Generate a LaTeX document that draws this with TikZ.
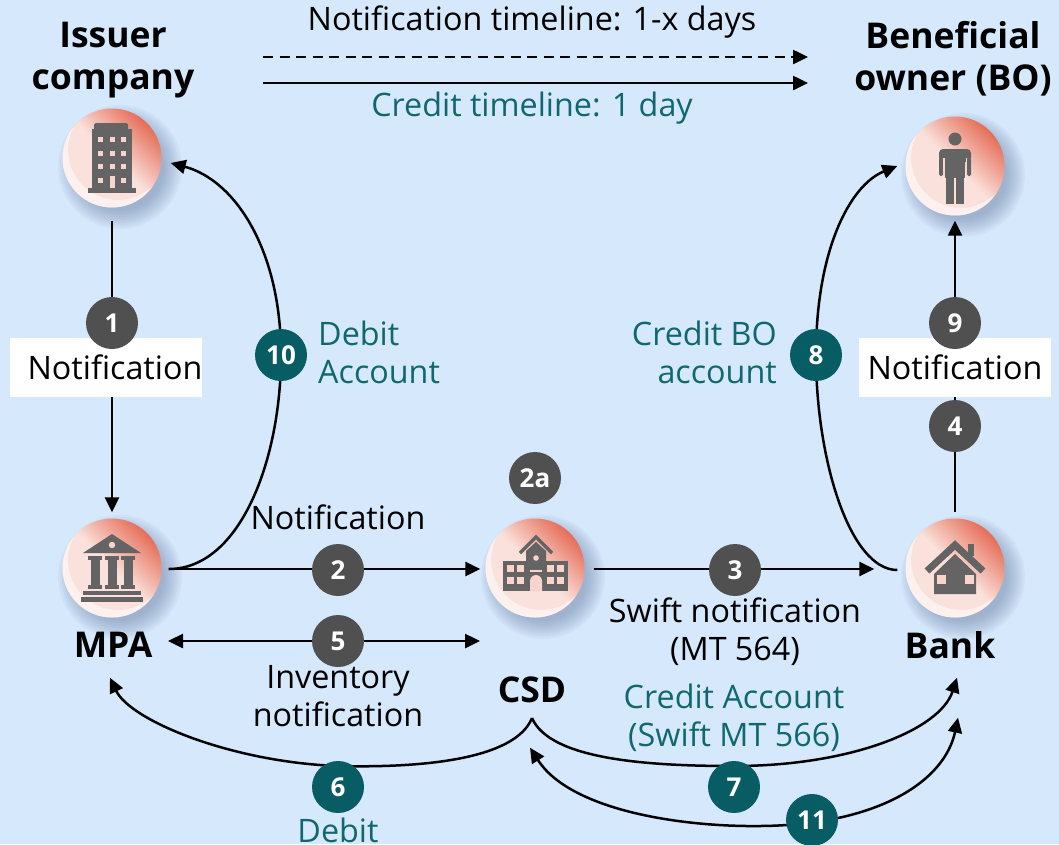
\documentclass[tikz,border=0pt]{standalone}
\usepackage{fontspec}
\setmainfont{Open Sans}
\usetikzlibrary{arrows.meta,calc}
\definecolor{bgc}{RGB}{214,232,252}
\definecolor{tealc}{RGB}{8,92,99}
\definecolor{tealtxt}{RGB}{16,104,110}
\definecolor{darkb}{RGB}{80,80,80}
\definecolor{salmon}{RGB}{229,110,88}
\definecolor{pinkl}{RGB}{250,226,220}
\definecolor{icong}{RGB}{100,100,100}
\definecolor{winp}{RGB}{248,212,204}
\definecolor{shadc}{RGB}{90,110,150}
\tikzset{
  iconc/.style={circle, minimum size=99pt, inner sep=0pt,
    top color=salmon, bottom color=pinkl, middle color=winp!70!white, shading angle=-45},
  badge/.style={circle, fill=darkb, minimum size=52pt, inner sep=0pt, text=white,
    font=\fontsize{26}{30}\selectfont\bfseries},
  tbadge/.style={badge, fill=tealc},
  txt/.style={font=\fontsize{32.3}{38}\selectfont, align=center, inner sep=0pt},
  ttxt/.style={txt, text=tealtxt},
  titletxt/.style={font=\fontsize{35.5}{42}\selectfont\bfseries, align=center, inner sep=0pt},
  wbox/.style={fill=white, minimum width=192pt, minimum height=59pt, inner sep=0pt},
  conn/.style={line width=2.5pt},
  arr/.style={conn, -{Triangle[length=15pt,width=14pt]}},
  darr/.style={conn, {Triangle[length=15pt,width=14pt]}-{Triangle[length=15pt,width=14pt]}},
  dashline/.style={dash pattern=on 10pt off 6.5pt}
}
\newcommand{\softshadow}[1]{%
  \foreach \r in {62,60,...,44} {\fill[shadc, opacity=0.05] ($(#1)+(8,9)$) circle (\r);}}
\newcommand{\swoosh}[1]{%
  \begin{scope}[shift={(#1)}]
    \clip (0,0) circle (49.5);
    \fill[white, opacity=0.55, even odd rule] (-60,-60) rectangle (60,60) (6,-8) circle (50);
  \end{scope}}
\begin{document}
\begin{tikzpicture}[x=1pt,y=-1pt]
\fill[bgc] (0,0) rectangle (1059,844);
\useasboundingbox (0,0) rectangle (1059,844);

% shadow anchors
\coordinate (siss) at (112,158);
\coordinate (sbo) at (955,166);
\coordinate (smpa) at (112,568);
\coordinate (scsd) at (535,568);
\coordinate (sbank) at (955,568);
\softshadow{siss}\softshadow{sbo}\softshadow{smpa}\softshadow{scsd}\softshadow{sbank}

% entity circles
\node[iconc] (iss) at (siss) {};
\node[iconc] (bo) at (sbo) {};
\node[iconc] (mpa) at (smpa) {};
\node[iconc] (csd) at (scsd) {};
\node[iconc] (bank) at (sbank) {};
\swoosh{iss}\swoosh{bo}\swoosh{mpa}\swoosh{csd}\swoosh{bank}

% icons
\begin{scope}[shift={(iss.center)}]
  \fill[icong, rounded corners=1.5pt] (-18,-35) rectangle (16,-26);
  \fill[icong] (-20,-29) rectangle (20,32);
  \fill[icong] (-24,30) rectangle (24,35);
  \foreach \x in {-12,0,11} \foreach \y in {-19,-5,8}
    \fill[winp] (\x-2.5,\y-2.5) rectangle (\x+2.5,\y+2.5);
  \fill[winp] (-14.5,19.5) rectangle (-9.5,24.5);
  \fill[winp] (8.5,19.5) rectangle (13.5,24.5);
  \fill[winp] (-2.5,18) rectangle (2.5,30);
\end{scope}
\begin{scope}[shift={(bo.center)}]
  \fill[icong] (0,-27) circle (6.5);
  \fill[icong, rounded corners=4pt] (-16,-17) rectangle (16,-4);
  \fill[icong, rounded corners=1.5pt] (-16,-8) rectangle (-12,10);
  \fill[icong, rounded corners=1.5pt] (12,-8) rectangle (16,10);
  \fill[icong] (-10,-8) rectangle (10,12);
  \fill[icong] (-9,11) rectangle (-1,38);
  \fill[icong] (1,11) rectangle (9,38);
  \fill[winp] (-12,-8) rectangle (-10.5,10);
  \fill[winp] (10.5,-8) rectangle (12,10);
\end{scope}
\begin{scope}[shift={(mpa.center)}]
  \fill[icong] (-29,-15) -- (0,-34) -- (29,-15) -- cycle;
  \fill[winp] (0,-23) circle (3.2);
  \foreach \x in {-17,0,16} {
    \fill[icong] (\x-7,-12) rectangle (\x+7,-8);
    \fill[icong] (\x-4.5,-8) rectangle (\x+4.5,17);
    \fill[icong] (\x-7,17) rectangle (\x+7,21);
  }
  \fill[icong] (-29,23) rectangle (29,27);
  \fill[icong] (-31,29) rectangle (31,34);
\end{scope}
\begin{scope}[shift={(csd.center)}]
  \draw[icong, line width=3.5pt, line join=miter] (-15,-15) -- (1,-31) -- (17,-15);
  \fill[icong] (-9,-7) -- (-9,-17) -- (1,-26) -- (11,-17) -- (11,-7) -- cycle;
  \fill[icong] (-32,-7) rectangle (33,23);
  \fill[winp] (1,-10) circle (2.8);
  \foreach \x in {-25,-14.5,15.5,25.5} \foreach \y in {0.5,12.5}
    \fill[winp] (\x-3.5,\y-3.5) rectangle (\x+3.5,\y+3.5);
  \fill[winp] (-5,1.5) rectangle (7,3.5);
  \fill[winp] (-5,23) -- (-5,13) arc[start angle=180, end angle=360, radius=6] -- (7,23) -- cycle;
\end{scope}
\begin{scope}[shift={(bank.center)}]
  \fill[icong] (13,-24) rectangle (19,-12);
  \draw[icong, line width=7pt, line join=miter] (-28,3) -- (0,-23) -- (28,3);
  \fill[icong] (-21,6) -- (0,-14) -- (21,6) -- (21,26) -- (-21,26) -- cycle;
  \fill[winp] (-18,7) rectangle (-9,16);
  \fill[winp] (10,7) rectangle (19,16);
\end{scope}

% titles
\node[titletxt] (tiss) at (113,60) {Issuer\\company};
\node[titletxt] (tbo) at (953,59) {Beneficial\\owner (BO)};
\node[titletxt] (tmpa) at (113,645) {MPA};
\node[titletxt] (tcsd) at (532,690) {CSD};
\node[titletxt] (tbank) at (950,645) {Bank};

% timeline legend
\coordinate (ta) at (263,57);
\coordinate (tb) at (808,57);
\coordinate (tc) at (263,83);
\coordinate (td) at (808,83);
\draw[arr, dashline] (ta) -- (tb);
\draw[arr] (tc) -- (td);
\node[txt] (tnl) at (532,22) {Notification timeline: 1-x days};
\node[ttxt] (tcl) at (532,108) {Credit timeline: 1 day};

% badge positions
\coordinate (p10) at (281,355);
\coordinate (p8) at (816,355);
\coordinate (cfork) at (532,718);

% connectors
\draw[arr] ($(iss.south)+(0,13)$) -- ($(mpa.north)+(0,-6)$);
\draw[arr] ($(bank.north)+(0,-6)$) -- ($(bo.south)+(0,5)$);
\draw[arr] ($(mpa.east)+(7,1)$) -- ($(csd.west)+(-5,1)$);
\draw[darr] ($(mpa)+(56,73)$) -- ($(csd)+(-55,73)$);
\draw[arr] ($(csd.east)+(9,1)$) -- ($(bank.west)+(-31,1)$);
\draw[arr] ($(mpa.east)+(7,1)$) .. controls (240,569) and (281,460) .. (p10)
   .. controls (281,250) and (235,180) .. ($(iss.east)+(9,5)$);
\draw[arr] ($(bank.west)+(-8,2)$) .. controls (850,570) and (816,460) .. (p8)
   .. controls (816,250) and (850,185) .. ($(bo.west)+(-8,0)$);
\draw[arr] (cfork) .. controls (515,760) and (420,768) .. (338,766)
   .. controls (230,762) and (130,720) .. ($(mpa.south)+(-2,60)$);
\draw[arr] (cfork) .. controls (550,760) and (650,766) .. (734,766)
   .. controls (850,766) and (940,730) .. ($(bank.south)+(2,60)$);
\draw[darr] ($(csd.south)+(-5,130)$) .. controls (570,810) and (680,827) .. (760,826)
   .. controls (880,825) and (945,780) .. ($(bank.south)+(3,100)$);

% white label boxes
\node[wbox] (box1) at (105.5,367.5) {};
\node[txt] (n1) at (115,367) {Notification};
\node[wbox] (box9) at (955,367.5) {};
\node[txt] (n9) at (955,367) {Notification};

% badges
\node[badge] (b1) at (112,323) {1};
\node[badge] (b2) at (338,570) {2};
\node[badge] (b2a) at (535,478) {2a};
\node[badge] (b3) at (735,570) {3};
\node[badge] (b4) at (955,426) {4};
\node[badge] (b5) at (338,641) {5};
\node[tbadge] (b6) at (338,787) {6};
\node[tbadge] (b7) at (734,787) {7};
\node[tbadge] (b8) at (p8) {8};
\node[badge] (b9) at (955,323) {9};
\node[tbadge] (b10) at (p10) {10};
\node[tbadge] (b11) at (812,820) {11};

% labels
\node[txt] (l2) at (338,517) {Notification};
\node[txt] (l5) at (338,696) {Inventory\\notification};
\node[txt] (l3) at (735,632) {Swift notification\\(MT 564)};
\node[ttxt] (l7) at (734,718) {Credit Account\\(Swift MT 566)};
\node[ttxt, anchor=west, align=left] (l10) at (318,352) {Debit\\Account};
\node[ttxt, anchor=east, align=right] (l8) at (777,352) {Credit BO\\account};
\node[ttxt] (l6) at (338,830) {Debit};
\end{tikzpicture}
\end{document}
